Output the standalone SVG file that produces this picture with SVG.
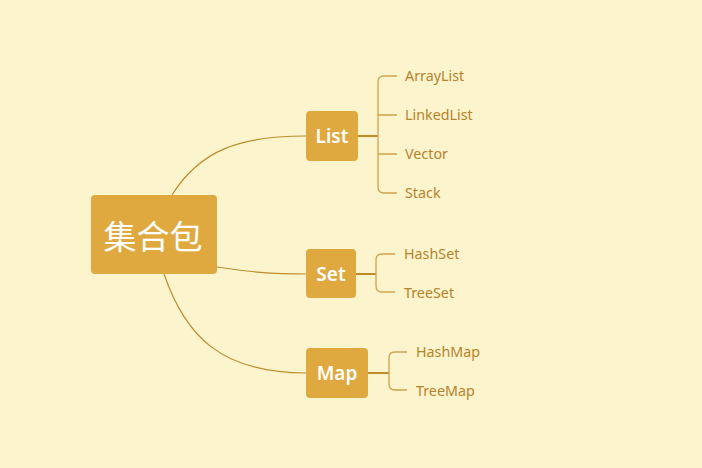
<svg xmlns="http://www.w3.org/2000/svg" width="702" height="468" viewBox="0 0 702 468">
<style>
.box{fill:#E0A940}
.main{fill:#FFFFFF;font-family:"Noto Sans","Noto Sans CJK SC",sans-serif;font-size:19px;font-weight:600}
.root{fill:#FFFFFF;font-family:"Noto Sans CJK SC",sans-serif;font-size:33px}
.leaf{fill:#B98228;font-family:"Noto Sans","Noto Sans CJK SC",sans-serif;font-size:14.3px}
.c{fill:none;stroke:#C08B2A;stroke-width:1.2}
.b{fill:none;stroke:#D2A24A;stroke-width:1.3}
.s{fill:none;stroke:#C08B2A;stroke-width:2}
</style>
<rect width="702" height="468" fill="#FBF4CD"/>
<g id="connectors">
<path class="c" d="M172,195 C200,150 240,136 306,136"/>
<path class="c" d="M217,267 C250,272 270,274 306,274"/>
<path class="c" d="M164,274 C185,335 220,373 306,373"/>
<path class="s" d="M358,136 H378"/>
<path class="b" d="M397,76 H384 Q378,76 378,82 V187 Q378,193 384,193 H397 M378,115 H397 M378,154 H397"/>
<path class="s" d="M356,274 H376"/>
<path class="b" d="M395,254 H382 Q376,254 376,260 V286 Q376,292 382,292 H395"/>
<path class="s" d="M368,373 H389"/>
<path class="b" d="M407,352 H395 Q389,352 389,358 V384 Q389,390 395,390 H407"/>
</g>
<g id="root"><rect class="box" x="91" y="195" width="126" height="79" rx="4"/><text class="root" x="153" y="249" text-anchor="middle">集合包</text></g>
<g id="list"><rect class="box" x="306" y="111" width="52" height="50" rx="4"/><text class="main" x="332" y="143" text-anchor="middle">List</text></g>
<g id="set"><rect class="box" x="306" y="249" width="50" height="49" rx="4"/><text class="main" x="331" y="281" text-anchor="middle">Set</text></g>
<g id="map"><rect class="box" x="306" y="348" width="62" height="50" rx="4"/><text class="main" x="337" y="380" text-anchor="middle">Map</text></g>
<g id="arraylist"><text class="leaf" x="405" y="80.5">ArrayList</text></g>
<g id="linkedlist"><text class="leaf" x="405" y="119.5">LinkedList</text></g>
<g id="vector"><text class="leaf" x="405" y="158.5">Vector</text></g>
<g id="stack"><text class="leaf" x="405" y="197.5">Stack</text></g>
<g id="hashset"><text class="leaf" x="404" y="258.5">HashSet</text></g>
<g id="treeset"><text class="leaf" x="404" y="297.5">TreeSet</text></g>
<g id="hashmap"><text class="leaf" x="416" y="356.5">HashMap</text></g>
<g id="treemap"><text class="leaf" x="416" y="395.5">TreeMap</text></g>
</svg>
